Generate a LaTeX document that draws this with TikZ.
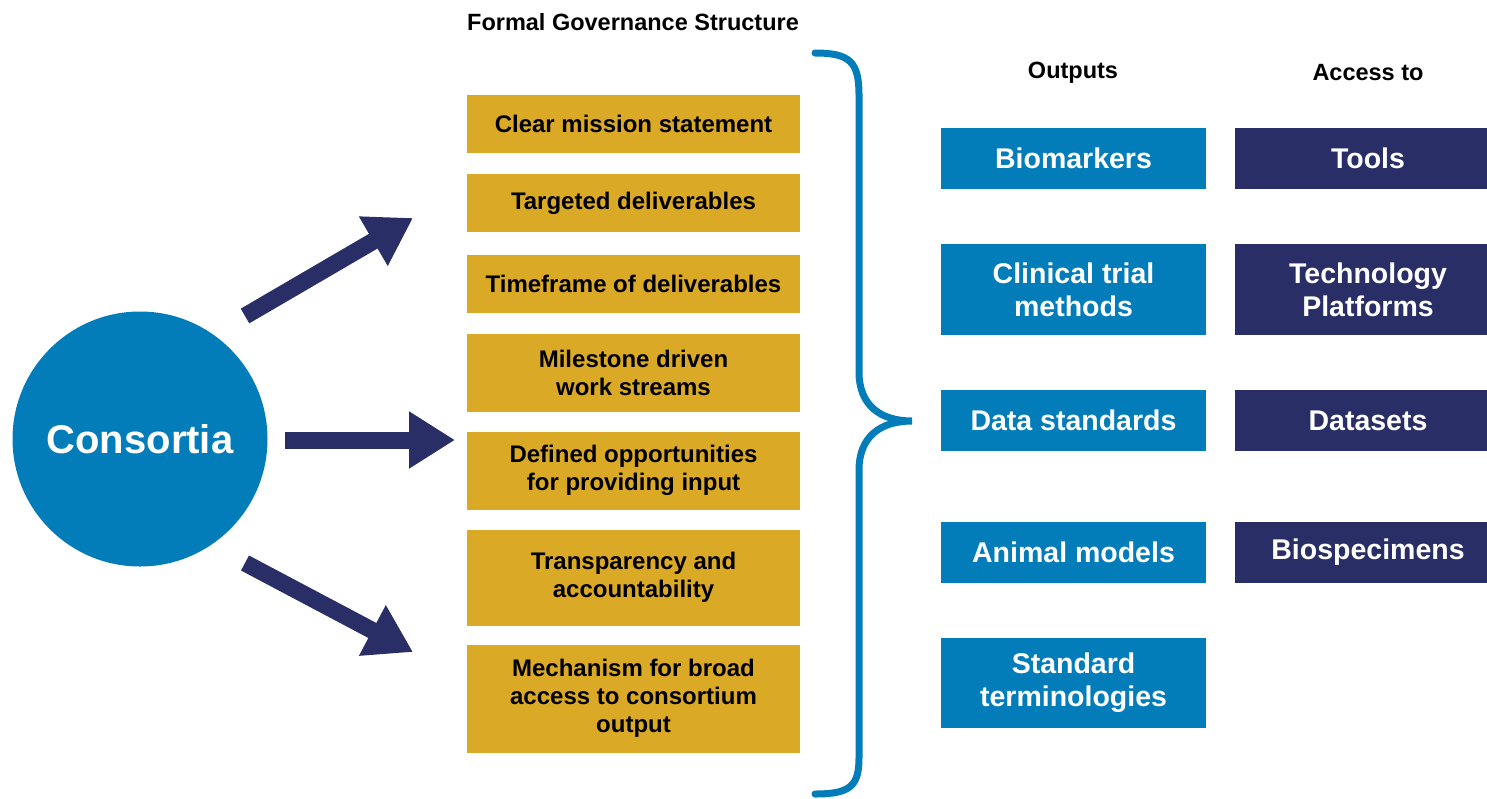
\documentclass[tikz,border=0pt]{standalone}
\usepackage{fontspec}
\setmainfont{Liberation Sans}
\usetikzlibrary{arrows.meta}
\definecolor{consblue}{RGB}{3,125,186}
\definecolor{govgold}{RGB}{218,169,38}
\definecolor{accnavy}{RGB}{41,46,103}

\begin{document}
\begin{tikzpicture}[x=1pt, y=-1pt,
    govbox/.style={fill=govgold, text=black, minimum width=333pt, inner sep=0pt,
      align=center, font=\fontsize{24}{28}\selectfont\bfseries},
    outbox/.style={fill=consblue, text=white, minimum width=265pt, inner sep=0pt,
      align=center, font=\fontsize{28.5}{33}\selectfont\bfseries},
    accbox/.style={outbox, fill=accnavy, minimum width=266pt},
    header/.style={font=\fontsize{23.5}{28}\selectfont\bfseries},
    bigarrow/.style={draw=accnavy, line width=17pt, -{Triangle[length=46pt, width=54pt]}}]
  \useasboundingbox (0,0) rectangle (1487,798);

  % centre circle
  \node[circle, fill=consblue, minimum size=255pt, inner sep=0pt, text=white,
    font=\fontsize{40}{48}\selectfont\bfseries] (cons) at (140,439) {Consortia};

  % governance column
  \node[header] (govtitle) at (633,22) {Formal Governance Structure};
  \foreach \i/\yc/\h/\txt in {1/124/58/{Clear mission statement},
      2/203/58/{Targeted deliverables},
      3/284/58/{Timeframe of deliverables},
      4/372.5/78/{Milestone driven\\work streams},
      5/470.5/78/{Defined opportunities\\for providing input},
      6/577.5/96/{Transparency and\\accountability},
      7/698.5/108/{Mechanism for broad\\access to consortium\\output}}
    \node[govbox, minimum height=\h pt] (gov\i) at (633.5,\yc) {\txt};

  % arrows out of the circle
  \coordinate (a1) at (245,316);  \coordinate (t1) at (413,218);
  \coordinate (a2) at (285,440);  \coordinate (t2) at (455,440);
  \coordinate (a3) at (245,563);  \coordinate (t3) at (413,652);
  \foreach \k in {1,2,3}
    \draw[bigarrow] (a\k) -- (t\k);

  % brace
  \draw[consblue, line width=7pt, line cap=round]
    (815,53) .. controls (850,53) and (859,62) .. (859,95) -- (859,372)
    .. controls (859,405) and (880,421) .. (912,421)
    .. controls (880,421) and (859,437) .. (859,470) -- (859,758)
    .. controls (859,786) and (850,794) .. (815,794);

  % outputs and access
  \node[header] (outtitle) at (1073,73) {Outputs};
  \node[header] (acctitle) at (1368,73) {Access to};
  \foreach \j/\yc/\h/\txt in {1/158/61/{Biomarkers},
      2/289.5/91/{Clinical trial\\methods},
      3/420.5/61/{Data standards},
      4/552/61/{Animal models},
      5/682.5/90/{Standard\\terminologies}}
    \node[outbox, minimum height=\h pt] (out\j) at (1073.5,\yc) {\txt};
  \foreach \j/\yc/\h/\txt in {1/158/61/{Tools},
      2/289.5/91/{Technology\\Platforms},
      3/420.5/61/{Datasets},
      4/552/61/{Biospecimens}}
    \node[accbox, minimum height=\h pt] (acc\j) at (1368,\yc) {\txt};
\end{tikzpicture}
\end{document}
